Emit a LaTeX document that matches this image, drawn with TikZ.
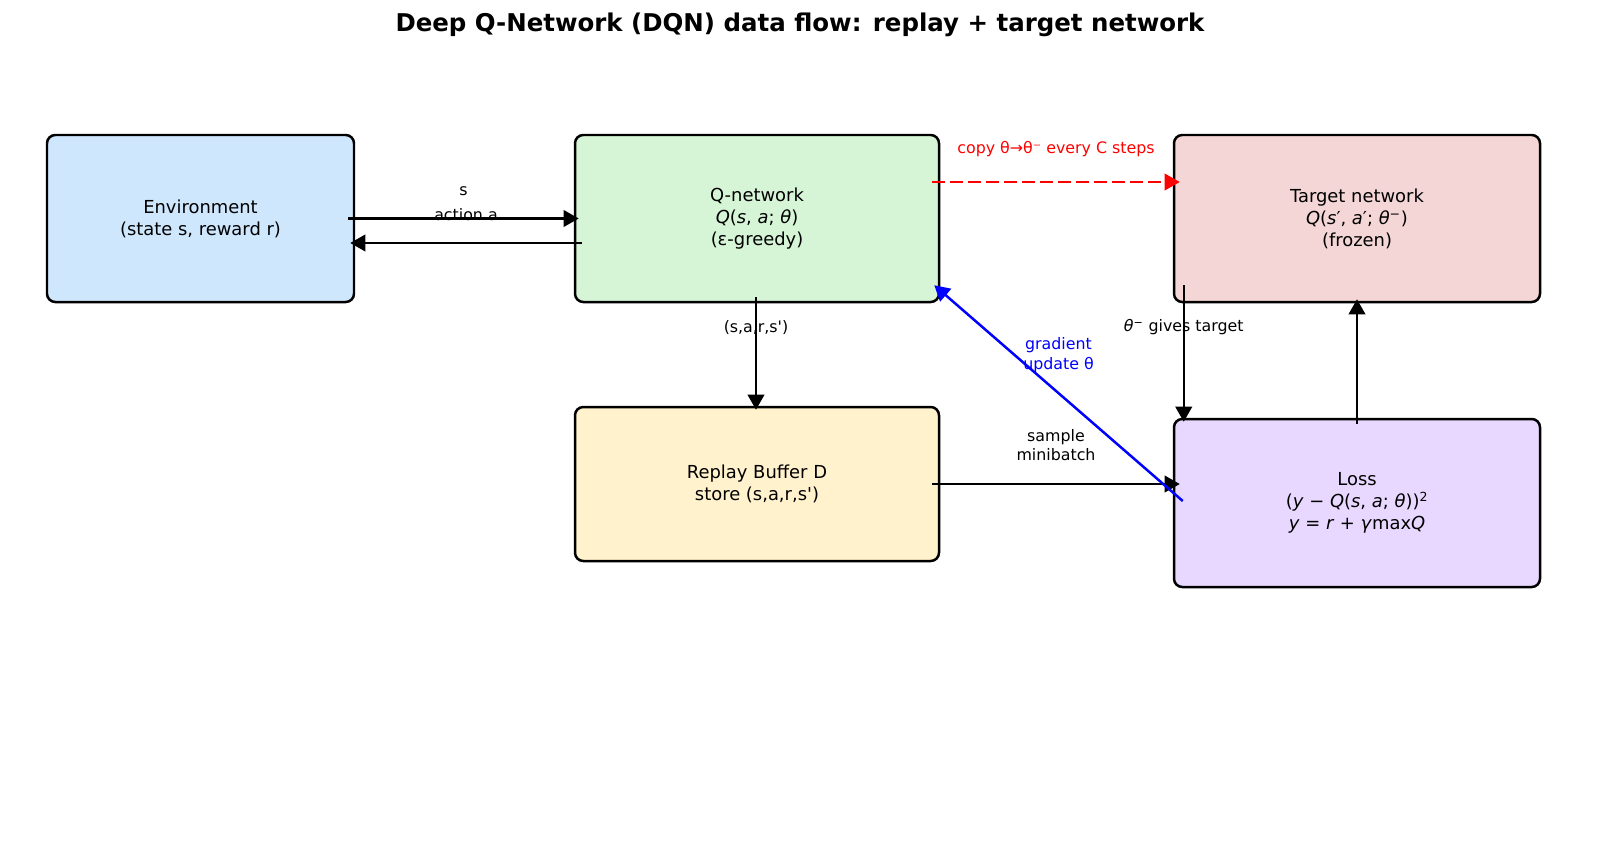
\documentclass[tikz,border=0pt]{standalone}
\usepackage{fontspec}
\setmainfont{DejaVu Sans}
\usetikzlibrary{arrows.meta}
\usetikzlibrary{calc}
\definecolor{envblue}{RGB}{207,231,253}
\definecolor{qgreen}{RGB}{214,245,214}
\definecolor{tgtred}{RGB}{245,214,214}
\definecolor{bufyellow}{RGB}{255,242,204}
\definecolor{losspurple}{RGB}{232,216,255}
\newcommand{\pxu}{0.72bp}
\tikzset{
  box_n/.style = {draw=black, line width=1.8pt, rounded corners=6pt,
    align=center, inner sep=0pt, font=\fontsize{12.9bp}{15.8bp}\selectfont},
  env_n/.style = {box_n, fill=envblue, minimum width=307*\pxu,
    minimum height=167*\pxu},% environment
  qnet_n/.style = {box_n, fill=qgreen, minimum width=364*\pxu,
    minimum height=167*\pxu},% online network
  tgt_n/.style = {box_n, fill=tgtred, minimum width=366*\pxu,
    minimum height=167*\pxu},% target network
  buf_n/.style = {box_n, fill=bufyellow, minimum width=364*\pxu,
    minimum height=154*\pxu},% replay buffer
  loss_n/.style = {box_n, fill=losspurple, minimum width=366*\pxu,
    minimum height=168*\pxu},% loss
  title_n/.style = {font=\fontsize{17.6bp}{21bp}\selectfont\bfseries},
  lbl/.style = {align=center, inner sep=0pt,
    font=\fontsize{11.4bp}{14bp}\selectfont},
  flow/.style = {->, line width=1.8pt},
  copy_e/.style = {flow, red, dash pattern=on 9pt off 4pt},% periodic copy
}

\begin{document}
\begin{tikzpicture}[x=0.72bp, y=-0.72bp, >={Triangle[length=11pt,width=12pt]}]
\useasboundingbox (0,0) rectangle (1600,864);

\node [title_n] (title) at (800,25) {Deep Q-Network (DQN) data flow: replay + target network};

\node [env_n] (env) at (200.5,218.5) {Environment\\(state s, reward r)};
\node [qnet_n] (qnet) at (757,218.5)
  {Q-network\\\textit{Q}(\textit{s}, \textit{a}; \textit{θ})\\(ε-greedy)};
\node [tgt_n] (tgt) at (1357,218.5)
  {Target network\\\textit{Q}(\textit{s}′, \textit{a}′; \textit{θ}\textsuperscript{−})\\(frozen)};
\node [buf_n] (replay) at (757,484)
  {Replay Buffer D\\store (s,a,r,s\textquotesingle)};
\node [loss_n] (loss) at (1357,503)
  {Loss\\(\textit{y} − \textit{Q}(\textit{s}, \textit{a}; \textit{θ}))\textsuperscript{2}\\\textit{y} = \textit{r} + \textit{γ}max\textit{Q}};

% agent <-> environment
\draw [flow] ($(env.east)+(-7,0)$) -- ($(qnet.west)+(5,0)$)
  node [lbl, midway, yshift=27*\pxu] {s};
\draw [flow] ($(qnet.west)+(8,24.5)$) -- ($(env.east)+(-5,24.5)$)
  node [lbl, midway, yshift=28*\pxu] {action a};

% copy weights
\draw [copy_e] ($(qnet.east)+(-8,-36.5)$) -- ($(tgt.west)+(7,-36.5)$)
  node [lbl, red, midway, yshift=33*\pxu] {copy θ→θ⁻ every C steps};

% store transitions, sample them
\draw [flow] ($(qnet.south)+(-1,-6)$) -- ($(replay.north)+(-1,4)$)
  node [lbl, pos=0.27] {(s,a,r,s\textquotesingle)};
\draw [flow] ($(replay.east)+(-8,0)$) -- ($(replay.east -| loss.west)+(7,0)$)
  node [lbl, midway, yshift=39*\pxu] {sample\\minibatch};

% gradient step
\draw [flow, blue] ($(loss.west)+(10,-2)$) -- ($(qnet.south east)+(-6,-18)$)
  node [lbl, blue, midway, yshift=38*\pxu] {gradient\\update θ};

% target values
\draw [flow] ($(tgt.south west)+(11,-18)$) -- ($(loss.north west)+(11,4)$)
  node [lbl, pos=0.31] {\textit{θ}\textsuperscript{−} gives target};
\draw [flow] ($(loss.north)+(0,6)$) -- ($(tgt.south)+(0,-4)$);
\end{tikzpicture}
\end{document}
